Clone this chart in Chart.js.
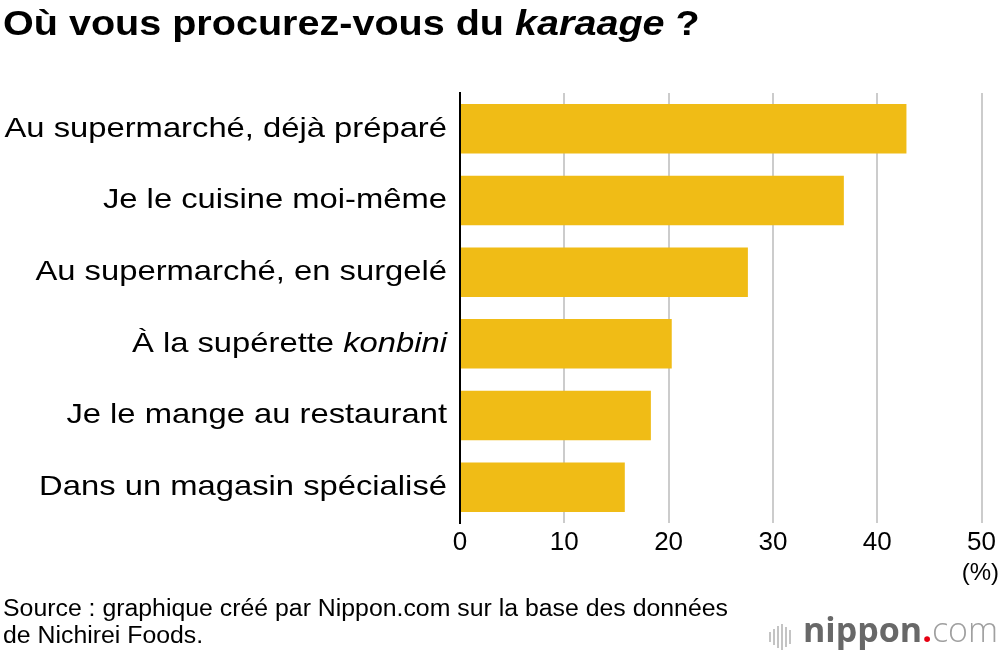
<!DOCTYPE html>
<html>
<head>
<meta charset="utf-8">
<script src="https://cdn.jsdelivr.net/npm/chart.js@4/dist/chart.umd.min.js"></script>
<style>
  body { margin: 0; background: #fff; font-family: "Liberation Sans", Arial, sans-serif; }
  #wrap { position: relative; width: 1000px; height: 650px; }
  canvas { position: absolute; left: 0; top: 0; }
  #title { position: absolute; left: 3px; top: 3px; font-size: 35px; font-weight: bold; color: #000; white-space: nowrap;
           transform: scaleX(1.13); transform-origin: 0 0; }
  #source { position: absolute; left: 3px; top: 595px; font-size: 23px; line-height: 27px; color: #000; white-space: nowrap;
            transform: scaleX(1.08); transform-origin: 0 0; }
  #logo { position: absolute; right: 2px; top: 606px; font-family: "Open Sans", sans-serif; font-size: 34px; white-space: nowrap; }
  #logo .n { color: #686868; font-weight: bold; }
  #logo .d { color: #e60012; font-weight: bold; }
  #logo .c { color: #a0a0a0; font-weight: 300; }
  #logo .wave { display: inline-block; vertical-align: middle; margin-right: 10px; }
  #logo .wave span { display: inline-block; width: 2px; background: #c4c4c4; margin-right: 2px; vertical-align: middle; }
</style>
</head>
<body>
<div id="wrap">
  <canvas id="chart" width="1000" height="650"></canvas>
  <div id="title">Où vous procurez-vous du <i>karaage</i> ?</div>
  <div id="source">Source : graphique créé par Nippon.com sur la base des données<br>de Nichirei Foods.</div>
  <div id="logo"><span class="wave"><span style="height:10px"></span><span style="height:16px"></span><span style="height:22px"></span><span style="height:26px"></span><span style="height:20px"></span><span style="height:14px"></span></span><span class="n">nippon</span><span class="d">.</span><span class="c">com</span></div>
</div>
<script>
// Données
const categories = [
    'Au supermarché, déjà préparé',
    'Je le cuisine moi-même',
    'Au supermarché, en surgelé',
    'À la supérette *konbini*',
    'Je le mange au restaurant',
    'Dans un magasin spécialisé'
];
const values = [42.8, 36.8, 27.6, 20.3, 18.3, 15.8];
const xTicks = [0, 10, 20, 30, 40, 50];

const FONT = '"Liberation Sans", Arial, sans-serif';

// Étiquettes de catégorie (partie en italique entre *)
const categoryLabels = {
    id: 'categoryLabels',
    afterDraw(chart) {
        const ctx = chart.ctx;
        const yScale = chart.scales.y;
        const right = chart.chartArea.left - 13;
        const stretch = 1.17;
        ctx.save();
        ctx.fillStyle = '#000';
        ctx.textBaseline = 'middle';
        ctx.textAlign = 'left';
        chart.data.labels.forEach((label, i) => {
            const y = yScale.getPixelForValue(i);
            const parts = label.split('*');
            let width = 0;
            parts.forEach((p, k) => {
                ctx.font = (k % 2 ? 'italic ' : '') + '28px ' + FONT;
                width += ctx.measureText(p).width;
            });
            ctx.save();
            ctx.translate(right, y);
            ctx.scale(stretch, 1);
            let x = -width;
            parts.forEach((p, k) => {
                ctx.font = (k % 2 ? 'italic ' : '') + '28px ' + FONT;
                ctx.fillText(p, x, 0);
                x += ctx.measureText(p).width;
            });
            ctx.restore();
        });
        // unité
        ctx.font = '24px ' + FONT;
        ctx.textAlign = 'right';
        ctx.fillText('(%)', 999, 573);
        ctx.restore();
    }
};

const ctx = document.getElementById('chart').getContext('2d');
new Chart(ctx, {
    type: 'bar',
    data: {
        labels: categories,
        datasets: [{
            data: values,
            backgroundColor: '#F0BC16',
            borderWidth: 0,
            barPercentage: 0.69,
            categoryPercentage: 1
        }]
    },
    options: {
        indexAxis: 'y',
        responsive: false,
        animation: false,
        layout: { padding: { top: 93, right: 16, left: 0, bottom: 0 } },
        plugins: { legend: { display: false }, tooltip: { enabled: false } },
        scales: {
            x: {
                min: 0,
                max: 50,
                afterBuildTicks: (scale) => { scale.ticks = xTicks.map(v => ({ value: v })); },
                afterFit: (scale) => { scale.height = 127; },
                grid: { color: '#cccccc', lineWidth: 2, drawTicks: false },
                border: { display: false },
                ticks: { color: '#000', font: { family: FONT, size: 26 }, padding: 4 }
            },
            y: {
                afterFit: (scale) => { scale.width = 460; },
                grid: { display: false },
                border: { display: true, color: '#000', width: 2 },
                ticks: { display: false }
            }
        }
    },
    plugins: [categoryLabels]
});
</script>
</body>
</html>
